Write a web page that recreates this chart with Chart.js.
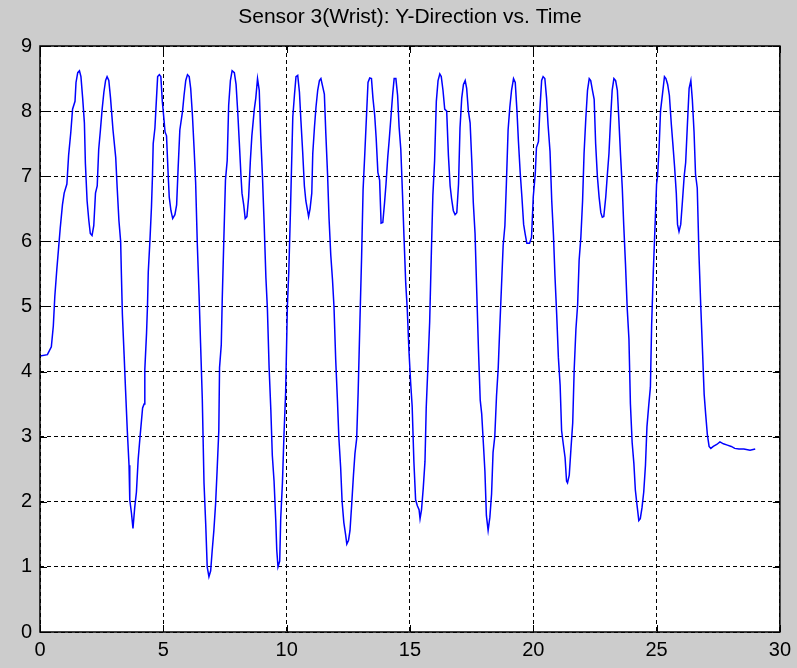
<!DOCTYPE html>
<html>
<head>
<meta charset="utf-8">
<script src="https://cdn.jsdelivr.net/npm/chart.js@4"></script>
<style>
  html, body { margin: 0; padding: 0; background: #cccccc; }
  #wrap { width: 797px; height: 668px; }
</style>
</head>
<body>
<div id="wrap"><canvas id="sensorChart" width="797" height="668"></canvas></div>
<script>
// Sensor 3 (wrist) Y-direction readings
const chartTitle = 'Sensor 3(Wrist): Y-Direction vs. Time';

const timeSec = [
  0, 0.3, 0.46, 0.54, 0.6, 0.68, 0.75, 0.82, 0.91, 0.98,
  1.09, 1.16, 1.25, 1.32, 1.42, 1.46, 1.53, 1.6, 1.66, 1.73,
  1.8, 1.84, 1.91, 1.98, 2.04, 2.11, 2.18, 2.25, 2.32, 2.38,
  2.45, 2.52, 2.59, 2.66, 2.72, 2.79, 2.86, 2.96, 3.07, 3.13,
  3.2, 3.27, 3.3, 3.34, 3.41, 3.47, 3.54, 3.61, 3.64, 3.71,
  3.77, 3.84, 3.91, 3.98, 4.05, 4.16, 4.22, 4.25, 4.32, 4.36,
  4.39, 4.46, 4.52, 4.56, 4.59, 4.66, 4.7, 4.77, 4.84, 4.9,
  4.96, 5.02, 5.07, 5.13, 5.2, 5.24, 5.31, 5.38, 5.47, 5.54,
  5.6, 5.67, 5.78, 5.84, 5.91, 5.98, 6.05, 6.11, 6.18, 6.25,
  6.31, 6.38, 6.45, 6.51, 6.58, 6.65, 6.72, 6.78, 6.85, 6.92,
  6.98, 7.05, 7.12, 7.18, 7.25, 7.28, 7.35, 7.39, 7.45, 7.52,
  7.59, 7.65, 7.72, 7.79, 7.88, 7.95, 8.02, 8.08, 8.15, 8.19,
  8.26, 8.32, 8.39, 8.46, 8.53, 8.59, 8.69, 8.75, 8.82, 8.89,
  8.95, 9.02, 9.09, 9.16, 9.22, 9.29, 9.36, 9.42, 9.49, 9.56,
  9.6, 9.65, 9.72, 9.76, 9.83, 9.89, 9.96, 10.03, 10.09, 10.16,
  10.19, 10.25, 10.32, 10.38, 10.45, 10.52, 10.58, 10.65, 10.72, 10.78,
  10.85, 10.89, 10.95, 11.02, 11.06, 11.13, 11.19, 11.26, 11.33, 11.39,
  11.46, 11.53, 11.59, 11.66, 11.72, 11.79, 11.86, 11.92, 11.99, 12.06,
  12.12, 12.19, 12.25, 12.32, 12.39, 12.44, 12.51, 12.57, 12.64, 12.71,
  12.77, 12.84, 12.9, 12.97, 13.04, 13.1, 13.17, 13.24, 13.3, 13.37,
  13.44, 13.5, 13.57, 13.63, 13.7, 13.77, 13.83, 13.9, 13.97, 14.03,
  14.1, 14.16, 14.23, 14.3, 14.36, 14.43, 14.5, 14.56, 14.63, 14.7,
  14.76, 14.83, 14.89, 14.96, 15.03, 15.09, 15.16, 15.23, 15.3, 15.37,
  15.41, 15.47, 15.54, 15.61, 15.66, 15.73, 15.8, 15.87, 15.93, 16.0,
  16.07, 16.14, 16.21, 16.27, 16.34, 16.41, 16.49, 16.56, 16.63, 16.69,
  16.76, 16.83, 16.9, 16.97, 17.03, 17.1, 17.17, 17.24, 17.3, 17.37,
  17.44, 17.51, 17.57, 17.64, 17.71, 17.78, 17.85, 17.91, 17.98, 18.04,
  18.1, 18.17, 18.24, 18.31, 18.37, 18.44, 18.51, 18.58, 18.64, 18.71,
  18.78, 18.85, 18.91, 18.98, 19.05, 19.12, 19.2, 19.27, 19.34, 19.4,
  19.47, 19.54, 19.61, 19.67, 19.74, 19.85, 19.93, 20.0, 20.08, 20.13,
  20.21, 20.27, 20.34, 20.4, 20.47, 20.54, 20.6, 20.68, 20.75, 20.82,
  20.88, 20.95, 21.02, 21.09, 21.15, 21.22, 21.29, 21.35, 21.39, 21.46,
  21.53, 21.6, 21.66, 21.73, 21.8, 21.86, 21.93, 22.0, 22.06, 22.13,
  22.2, 22.27, 22.33, 22.4, 22.47, 22.53, 22.6, 22.67, 22.74, 22.8,
  22.86, 22.94, 23.0, 23.07, 23.14, 23.2, 23.27, 23.34, 23.41, 23.47,
  23.54, 23.61, 23.67, 23.74, 23.81, 23.88, 23.94, 24.01, 24.08, 24.14,
  24.21, 24.28, 24.34, 24.41, 24.48, 24.55, 24.61, 24.68, 24.75, 24.8,
  24.87, 24.93, 25.0, 25.04, 25.1, 25.16, 25.24, 25.32, 25.38, 25.45,
  25.52, 25.6, 25.66, 25.73, 25.8, 25.85, 25.91, 25.98, 26.05, 26.12,
  26.18, 26.25, 26.32, 26.39, 26.45, 26.52, 26.58, 26.65, 26.72, 26.79,
  26.86, 26.93, 26.99, 27.06, 27.13, 27.2, 27.3, 27.44, 27.57, 27.71,
  27.87, 28.03, 28.17, 28.34, 28.54, 28.79, 29.0
];

const yDirection = [
  4.24, 4.26, 4.38, 4.7, 5.15, 5.56, 5.88, 6.2, 6.56, 6.74,
  6.88, 7.32, 7.68, 8.03, 8.15, 8.44, 8.59, 8.62, 8.53, 8.2,
  7.82, 7.2, 6.62, 6.32, 6.12, 6.09, 6.24, 6.74, 6.85, 7.41,
  7.71, 8.03, 8.29, 8.47, 8.53, 8.47, 8.2, 7.71, 7.29, 6.82,
  6.32, 6.0, 5.5, 4.88, 4.26, 3.71, 3.09, 2.56, 2.03, 1.82,
  1.59, 1.91, 2.15, 2.65, 2.97, 3.44, 3.5, 4.03, 4.59, 5.03,
  5.53, 6.03, 6.53, 7.0, 7.5, 7.74, 8.03, 8.53, 8.56, 8.53,
  8.15, 7.9, 7.68, 7.62, 7.0, 6.68, 6.47, 6.35, 6.41, 6.56,
  7.12, 7.71, 8.0, 8.24, 8.47, 8.56, 8.53, 8.35, 7.94, 7.41,
  6.91, 5.94, 5.18, 4.44, 3.59, 2.29, 1.65, 1.0, 0.85, 0.94,
  1.24, 1.56, 1.97, 2.47, 3.09, 4.06, 4.41, 5.12, 5.97, 6.94,
  7.24, 8.09, 8.47, 8.62, 8.59, 8.41, 7.97, 7.53, 7.0, 6.74,
  6.56, 6.35, 6.38, 6.68, 7.24, 7.62, 8.03, 8.2, 8.5, 8.32,
  7.62, 7.0, 6.26, 5.44, 4.97, 4.06, 3.41, 2.71, 2.32, 1.71,
  1.26, 1.0, 1.09, 1.74, 2.29, 3.0, 3.68, 5.0, 5.56, 6.53,
  7.0, 7.91, 8.26, 8.53, 8.55, 8.29, 7.85, 7.38, 6.85, 6.62,
  6.47, 6.38, 6.5, 6.74, 7.35, 7.76, 8.06, 8.32, 8.47, 8.5,
  8.38, 8.26, 7.65, 7.03, 6.35, 5.79, 5.41, 5.0, 4.18, 3.56,
  2.97, 2.53, 2.0, 1.68, 1.5, 1.35, 1.41, 1.56, 1.97, 2.41,
  2.74, 2.97, 3.68, 4.74, 5.76, 6.79, 7.35, 7.94, 8.44, 8.51,
  8.5, 8.2, 7.94, 7.59, 7.06, 6.94, 6.28, 6.29, 6.59, 6.88,
  7.29, 7.56, 7.91, 8.26, 8.5, 8.5, 8.24, 7.76, 7.41, 6.71,
  6.06, 5.35, 4.97, 4.32, 3.82, 3.47, 2.62, 2.03, 1.94, 1.88,
  1.74, 1.88, 2.21, 2.62, 3.44, 4.09, 4.76, 5.85, 6.71, 7.24,
  8.15, 8.47, 8.57, 8.53, 8.32, 8.03, 8.0, 7.32, 6.85, 6.65,
  6.47, 6.41, 6.44, 6.88, 7.74, 8.2, 8.41, 8.47, 8.35, 8.0,
  7.82, 7.21, 6.59, 6.12, 5.21, 4.32, 3.56, 3.35, 2.88, 2.47,
  1.79, 1.56, 1.76, 2.12, 2.76, 3.0, 3.62, 4.06, 4.65, 5.29,
  5.94, 6.24, 6.88, 7.71, 8.06, 8.32, 8.5, 8.44, 8.0, 7.53,
  7.06, 6.68, 6.26, 6.12, 5.97, 5.97, 6.06, 6.68, 7.03, 7.44,
  7.53, 8.03, 8.47, 8.53, 8.5, 8.2, 7.79, 7.38, 6.62, 6.09,
  5.47, 4.88, 4.21, 3.79, 3.09, 2.88, 2.68, 2.32, 2.29, 2.41,
  2.82, 3.21, 4.03, 4.65, 5.03, 5.71, 6.06, 6.62, 7.35, 7.88,
  8.32, 8.5, 8.47, 8.32, 8.18, 7.5, 7.0, 6.68, 6.44, 6.37,
  6.38, 6.68, 7.0, 7.35, 7.91, 8.32, 8.5, 8.47, 8.32, 7.88,
  7.32, 6.82, 6.24, 5.65, 4.97, 4.5, 3.5, 2.91, 2.59, 2.18,
  1.94, 1.71, 1.74, 1.91, 2.15, 2.56, 3.15, 3.47, 3.76, 4.71,
  5.56, 6.15, 6.88, 7.0, 7.41, 8.0, 8.26, 8.53, 8.5, 8.41,
  8.24, 7.79, 7.5, 7.15, 6.74, 6.26, 6.15, 6.26, 6.62, 7.0,
  7.21, 7.79, 8.35, 8.47, 8.18, 7.68, 7.03, 6.82, 5.79, 5.03,
  4.35, 3.65, 3.35, 3.03, 2.85, 2.82, 2.85, 2.88, 2.92, 2.89,
  2.87, 2.85, 2.82, 2.81, 2.81, 2.79, 2.81
];

const xTicks = [0, 5, 10, 15, 20, 25, 30];
const yTicks = [0, 1, 2, 3, 4, 5, 6, 7, 8, 9];

const FONT = "'Liberation Sans', Arial, sans-serif";

// 背景（灰色の図 + 白い軸領域）
const backdrop = {
    id: 'backdrop',
    beforeDraw(chart) {
        const { ctx, chartArea: a } = chart;
        ctx.save();
        ctx.fillStyle = '#cccccc';
        ctx.fillRect(0, 0, chart.width, chart.height);
        ctx.fillStyle = '#ffffff';
        ctx.fillRect(a.left, a.top, a.right - a.left, a.bottom - a.top);
        ctx.restore();
    },
    afterDraw(chart) {
        // MATLAB風の枠と内向きの目盛り
        const { ctx, chartArea: a, scales } = chart;
        const len = 7;
        ctx.save();
        ctx.strokeStyle = '#000000';
        ctx.lineWidth = 1;
        ctx.setLineDash([]);
        ctx.beginPath();
        xTicks.forEach(v => {
            const x = Math.round(scales.x.getPixelForValue(v)) + 0.5;
            ctx.moveTo(x, a.bottom); ctx.lineTo(x, a.bottom - len);
            ctx.moveTo(x, a.top); ctx.lineTo(x, a.top + len);
        });
        yTicks.forEach(v => {
            const y = Math.round(scales.y.getPixelForValue(v)) + 0.5;
            ctx.moveTo(a.left, y); ctx.lineTo(a.left + len, y);
            ctx.moveTo(a.right, y); ctx.lineTo(a.right - len, y);
        });
        ctx.stroke();
        ctx.lineWidth = 1.5;
        ctx.strokeRect(a.left, a.top, a.right - a.left, a.bottom - a.top);
        ctx.restore();
    }
};

const points = timeSec.map((t, i) => ({ x: t, y: yDirection[i] }));

new Chart(document.getElementById('sensorChart'), {
    type: 'line',
    data: {
        datasets: [{
            data: points,
            borderColor: '#0000ff',
            borderWidth: 1.5,
            pointRadius: 0,
            tension: 0,
            fill: false
        }]
    },
    options: {
        responsive: false,
        animation: false,
        layout: { padding: { left: 0, right: 15, top: 0, bottom: 0 } },
        plugins: {
            legend: { display: false },
            tooltip: { enabled: false },
            title: {
                display: true,
                text: chartTitle,
                color: '#000000',
                fullSize: false,
                font: { family: FONT, size: 21, weight: 'normal' },
                padding: { top: 5, bottom: 15.8 }
            }
        },
        scales: {
            x: {
                type: 'linear',
                min: 0,
                max: 30,
                afterBuildTicks(scale) { scale.ticks = xTicks.map(v => ({ value: v })); },
                afterFit(scale) { scale.height = 36; },
                ticks: {
                    color: '#000000',
                    font: { family: FONT, size: 20 },
                    padding: 6,
                    maxRotation: 0
                },
                grid: { color: '#000000', lineWidth: 1, drawTicks: false },
                border: { display: false, dash: [4, 3] }
            },
            y: {
                type: 'linear',
                min: 0,
                max: 9,
                afterBuildTicks(scale) { scale.ticks = yTicks.map(v => ({ value: v })); },
                afterFit(scale) { scale.width = 40; },
                ticks: {
                    color: '#000000',
                    font: { family: FONT, size: 20 },
                    padding: 8
                },
                grid: { color: '#000000', lineWidth: 1, drawTicks: false },
                border: { display: false, dash: [4, 3] }
            }
        }
    },
    plugins: [backdrop]
});
</script>
</body>
</html>
